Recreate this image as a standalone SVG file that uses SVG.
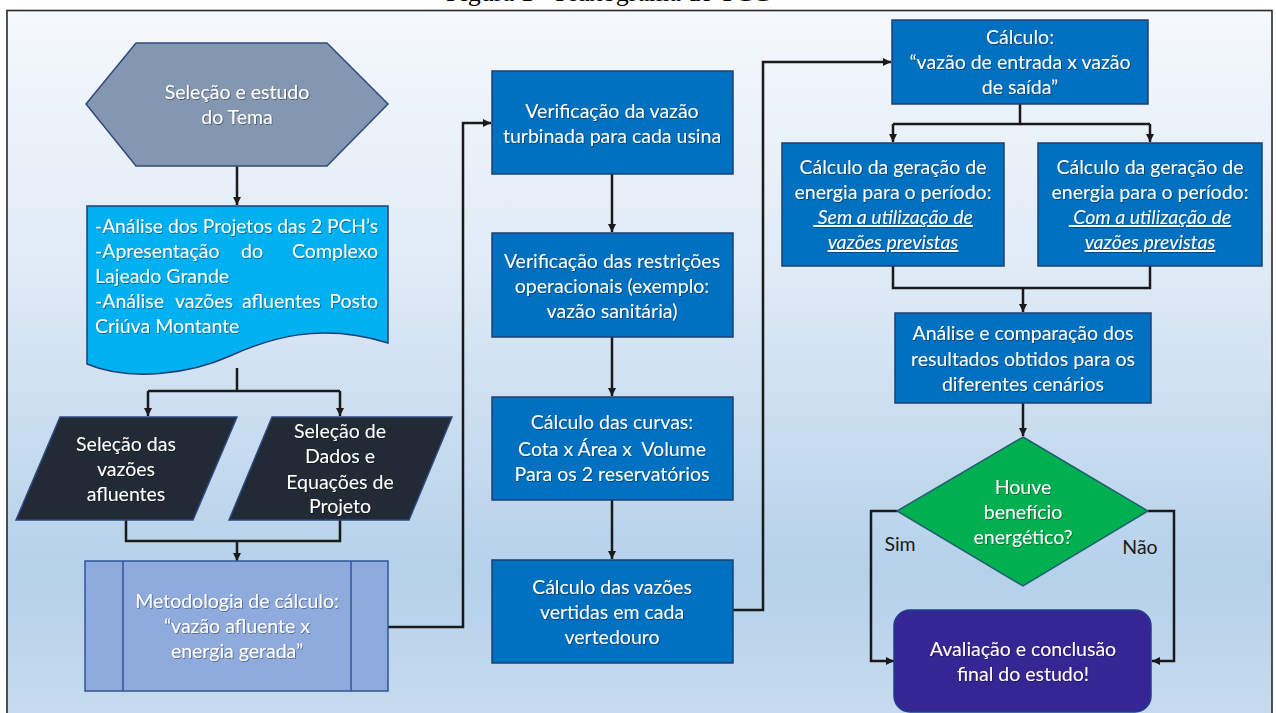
<svg xmlns="http://www.w3.org/2000/svg" width="1276" height="713" viewBox="0 0 1276 713">
<defs>
<linearGradient id="bg" x1="0" y1="0" x2="0" y2="1">
<stop offset="0" stop-color="#f5f8fc"/>
<stop offset="0.35" stop-color="#e0ebf6"/>
<stop offset="0.78" stop-color="#b5d1ea"/>
<stop offset="1" stop-color="#c8dcef"/>
</linearGradient>
<filter id="sh" x="-5%" y="-20%" width="110%" height="140%">
<feDropShadow dx="0.8" dy="0.8" stdDeviation="0.6" flood-color="#000" flood-opacity="0.45"/>
</filter>
<marker id="ah" viewBox="0 0 10 10" refX="10" refY="5" markerWidth="8" markerHeight="8" markerUnits="userSpaceOnUse" orient="auto">
<path d="M0,0 L10,5 L0,10 z" fill="#1a1a1a"/>
</marker>
<style>
.t{font-family:Lato,"Noto Sans","DejaVu Sans",sans-serif;font-size:19.5px;fill:#ffffff;text-anchor:middle;filter:url(#sh)}
.tl{font-family:Lato,"Noto Sans","DejaVu Sans",sans-serif;font-size:19.5px;fill:#ffffff;filter:url(#sh)}
.lab{font-family:Lato,"Noto Sans","DejaVu Sans",sans-serif;font-size:19.5px;fill:#1a1a1a;text-anchor:middle}
.box{fill:#0070c0;stroke:#1f3f70;stroke-width:1.5}
.c{fill:none;stroke:#1a1a1a;stroke-width:2.5}
.ca{fill:none;stroke:#1a1a1a;stroke-width:2.5;marker-end:url(#ah)}
.ui{font-style:italic;text-decoration:underline}
</style>
</defs>
<text x="608" y="1" font-family="'Liberation Serif',serif" font-size="26" text-anchor="middle" fill="#000">Figura 1 - Fluxograma do TCC</text>
<rect x="7" y="10.5" width="1265" height="720" fill="url(#bg)" stroke="#2a2a2a" stroke-width="1.6"/>

<g id="connectors">
<path class="ca" d="M237,166 V205"/>
<path class="c" d="M237,368 V391"/>
<path class="ca" d="M148,391 H340 M148,391 V416"/>
<path class="ca" d="M340,391 V416"/>
<path class="c" d="M126,520 V541 H340 V520"/>
<path class="ca" d="M237,541 V561"/>
<path class="ca" d="M388,627 H463 V123 H491"/>
<path class="ca" d="M612,174 V232"/>
<path class="ca" d="M612,337 V396"/>
<path class="ca" d="M612,500 V559"/>
<path class="ca" d="M733,610 H763 V62 H891"/>
<path class="c" d="M1020,104 V124 H893"/>
<path class="ca" d="M893,124 V142"/>
<path class="c" d="M1020,124 H1150"/>
<path class="ca" d="M1150,124 V142"/>
<path class="c" d="M893,266 V288 H1150 V266"/>
<path class="ca" d="M1023,288 V312"/>
<path class="ca" d="M1023,403 V436"/>
<path class="ca" d="M897,511 H871 V661 H894"/>
<path class="ca" d="M1148,511 H1174 V661 H1152"/>
<text class="lab" x="900" y="551">Sim</text>
<text class="lab" x="1140" y="554">Não</text>
</g>

<g id="n-tema">
<polygon points="86,104 136,43 327,43 388,104 327,166 136,166" fill="#8497b0" stroke="#2f4a80" stroke-width="1.5"/>
<text class="t" x="237" y="99">Seleção e estudo</text>
<text class="t" x="237" y="124">do Tema</text>
</g>

<g id="n-analise">
<path d="M87,206 H388 V343 C320,322 270,338 230,356 C190,374 130,382 87,364 Z" fill="#00b0f0" stroke="#1f3f70" stroke-width="1.5"/>
<text class="tl" x="95" y="233" textLength="283" lengthAdjust="spacingAndGlyphs">-Análise dos Projetos das 2 PCH’s</text>
<text class="tl" x="95" y="258">-Apresentação</text>
<text class="tl" x="241" y="258">do</text>
<text class="tl" x="378" y="258" text-anchor="end">Complexo</text>
<text class="tl" x="95" y="283">Lajeado Grande</text>
<text class="tl" x="95" y="308">-Análise</text>
<text class="tl" x="175" y="308">vazões</text>
<text class="tl" x="242" y="308">afluentes</text>
<text class="tl" x="378" y="308" text-anchor="end">Posto</text>
<text class="tl" x="95" y="333">Criúva Montante</text>
</g>

<g id="n-vazoes">
<polygon points="60,417 237,417 193,520 16,520" fill="#222a35" stroke="#2f4a80" stroke-width="1.5"/>
<text class="t" x="126" y="451">Seleção das</text>
<text class="t" x="126" y="476">vazões</text>
<text class="t" x="126" y="501">afluentes</text>
</g>

<g id="n-dados">
<polygon points="272,417 452,417 409,520 229,520" fill="#222a35" stroke="#2f4a80" stroke-width="1.5"/>
<text class="t" x="340" y="438">Seleção de</text>
<text class="t" x="340" y="463">Dados e</text>
<text class="t" x="340" y="489">Equações de</text>
<text class="t" x="340" y="513">Projeto</text>
</g>

<g id="n-metodologia">
<rect x="85" y="561" width="303" height="130" fill="#8faadc" stroke="#2f5597" stroke-width="1.5"/>
<line x1="123" y1="561" x2="123" y2="691" stroke="#2f5597" stroke-width="1.5"/>
<line x1="351" y1="561" x2="351" y2="691" stroke="#2f5597" stroke-width="1.5"/>
<text class="t" x="237" y="608">Metodologia de cálculo:</text>
<text class="t" x="237" y="633">“vazão afluente x</text>
<text class="t" x="237" y="658">energia gerada”</text>
</g>

<g id="n-turbinada">
<rect class="box" x="492" y="71" width="241" height="103"/>
<text class="t" x="612" y="118">Verificação da vazão</text>
<text class="t" x="612" y="143">turbinada para cada usina</text>
</g>

<g id="n-restricoes">
<rect class="box" x="492" y="233" width="241" height="104"/>
<text class="t" x="612" y="268">Verificação das restrições</text>
<text class="t" x="612" y="293">operacionais (exemplo:</text>
<text class="t" x="612" y="318">vazão sanitária)</text>
</g>

<g id="n-curvas">
<rect class="box" x="492" y="397" width="241" height="103"/>
<text class="t" x="612" y="429">Cálculo das curvas:</text>
<text class="t" x="612" y="456" xml:space="preserve">Cota x Área x  Volume</text>
<text class="t" x="612" y="481">Para os 2 reservatórios</text>
</g>

<g id="n-vertidas">
<rect class="box" x="492" y="560" width="241" height="103"/>
<text class="t" x="612" y="594">Cálculo das vazões</text>
<text class="t" x="612" y="619">vertidas em cada</text>
<text class="t" x="612" y="644">vertedouro</text>
</g>

<g id="n-calculo">
<rect class="box" x="892" y="20" width="256" height="84"/>
<text class="t" x="1020" y="44">Cálculo:</text>
<text class="t" x="1020" y="69">“vazão de entrada x vazão</text>
<text class="t" x="1020" y="94">de saída”</text>
</g>

<g id="n-sem">
<rect class="box" x="782" y="143" width="222" height="123"/>
<text class="t" x="893" y="174">Cálculo da geração de</text>
<text class="t" x="893" y="199">energia para o período:</text>
<text class="t ui" x="893" y="224" xml:space="preserve"> Sem a utilização de</text>
<text class="t ui" x="893" y="249">vazões previstas</text>
</g>

<g id="n-com">
<rect class="box" x="1038" y="143" width="224" height="123"/>
<text class="t" x="1150" y="174">Cálculo da geração de</text>
<text class="t" x="1150" y="199">energia para o período:</text>
<text class="t ui" x="1150" y="224" xml:space="preserve"> Com a utilização de</text>
<text class="t ui" x="1150" y="249">vazões previstas</text>
</g>

<g id="n-comparacao">
<rect class="box" x="895" y="313" width="256" height="90"/>
<text class="t" x="1023" y="340">Análise e comparação dos</text>
<text class="t" x="1023" y="366">resultados obtidos para os</text>
<text class="t" x="1023" y="391">diferentes cenários</text>
</g>

<g id="n-decisao">
<polygon points="1023,437 1148,511 1023,586 897,511" fill="#00b050" stroke="#1f5f6f" stroke-width="1.5"/>
<text class="t" x="1023" y="494">Houve</text>
<text class="t" x="1023" y="519">benefício</text>
<text class="t" x="1023" y="544">energético?</text>
</g>

<g id="n-final">
<rect x="894" y="610" width="257" height="102" rx="16" fill="#352693" stroke="#1f3f8f" stroke-width="1.5"/>
<text class="t" x="1023" y="656">Avaliação e conclusão</text>
<text class="t" x="1023" y="681">final do estudo!</text>
</g>
</svg>
